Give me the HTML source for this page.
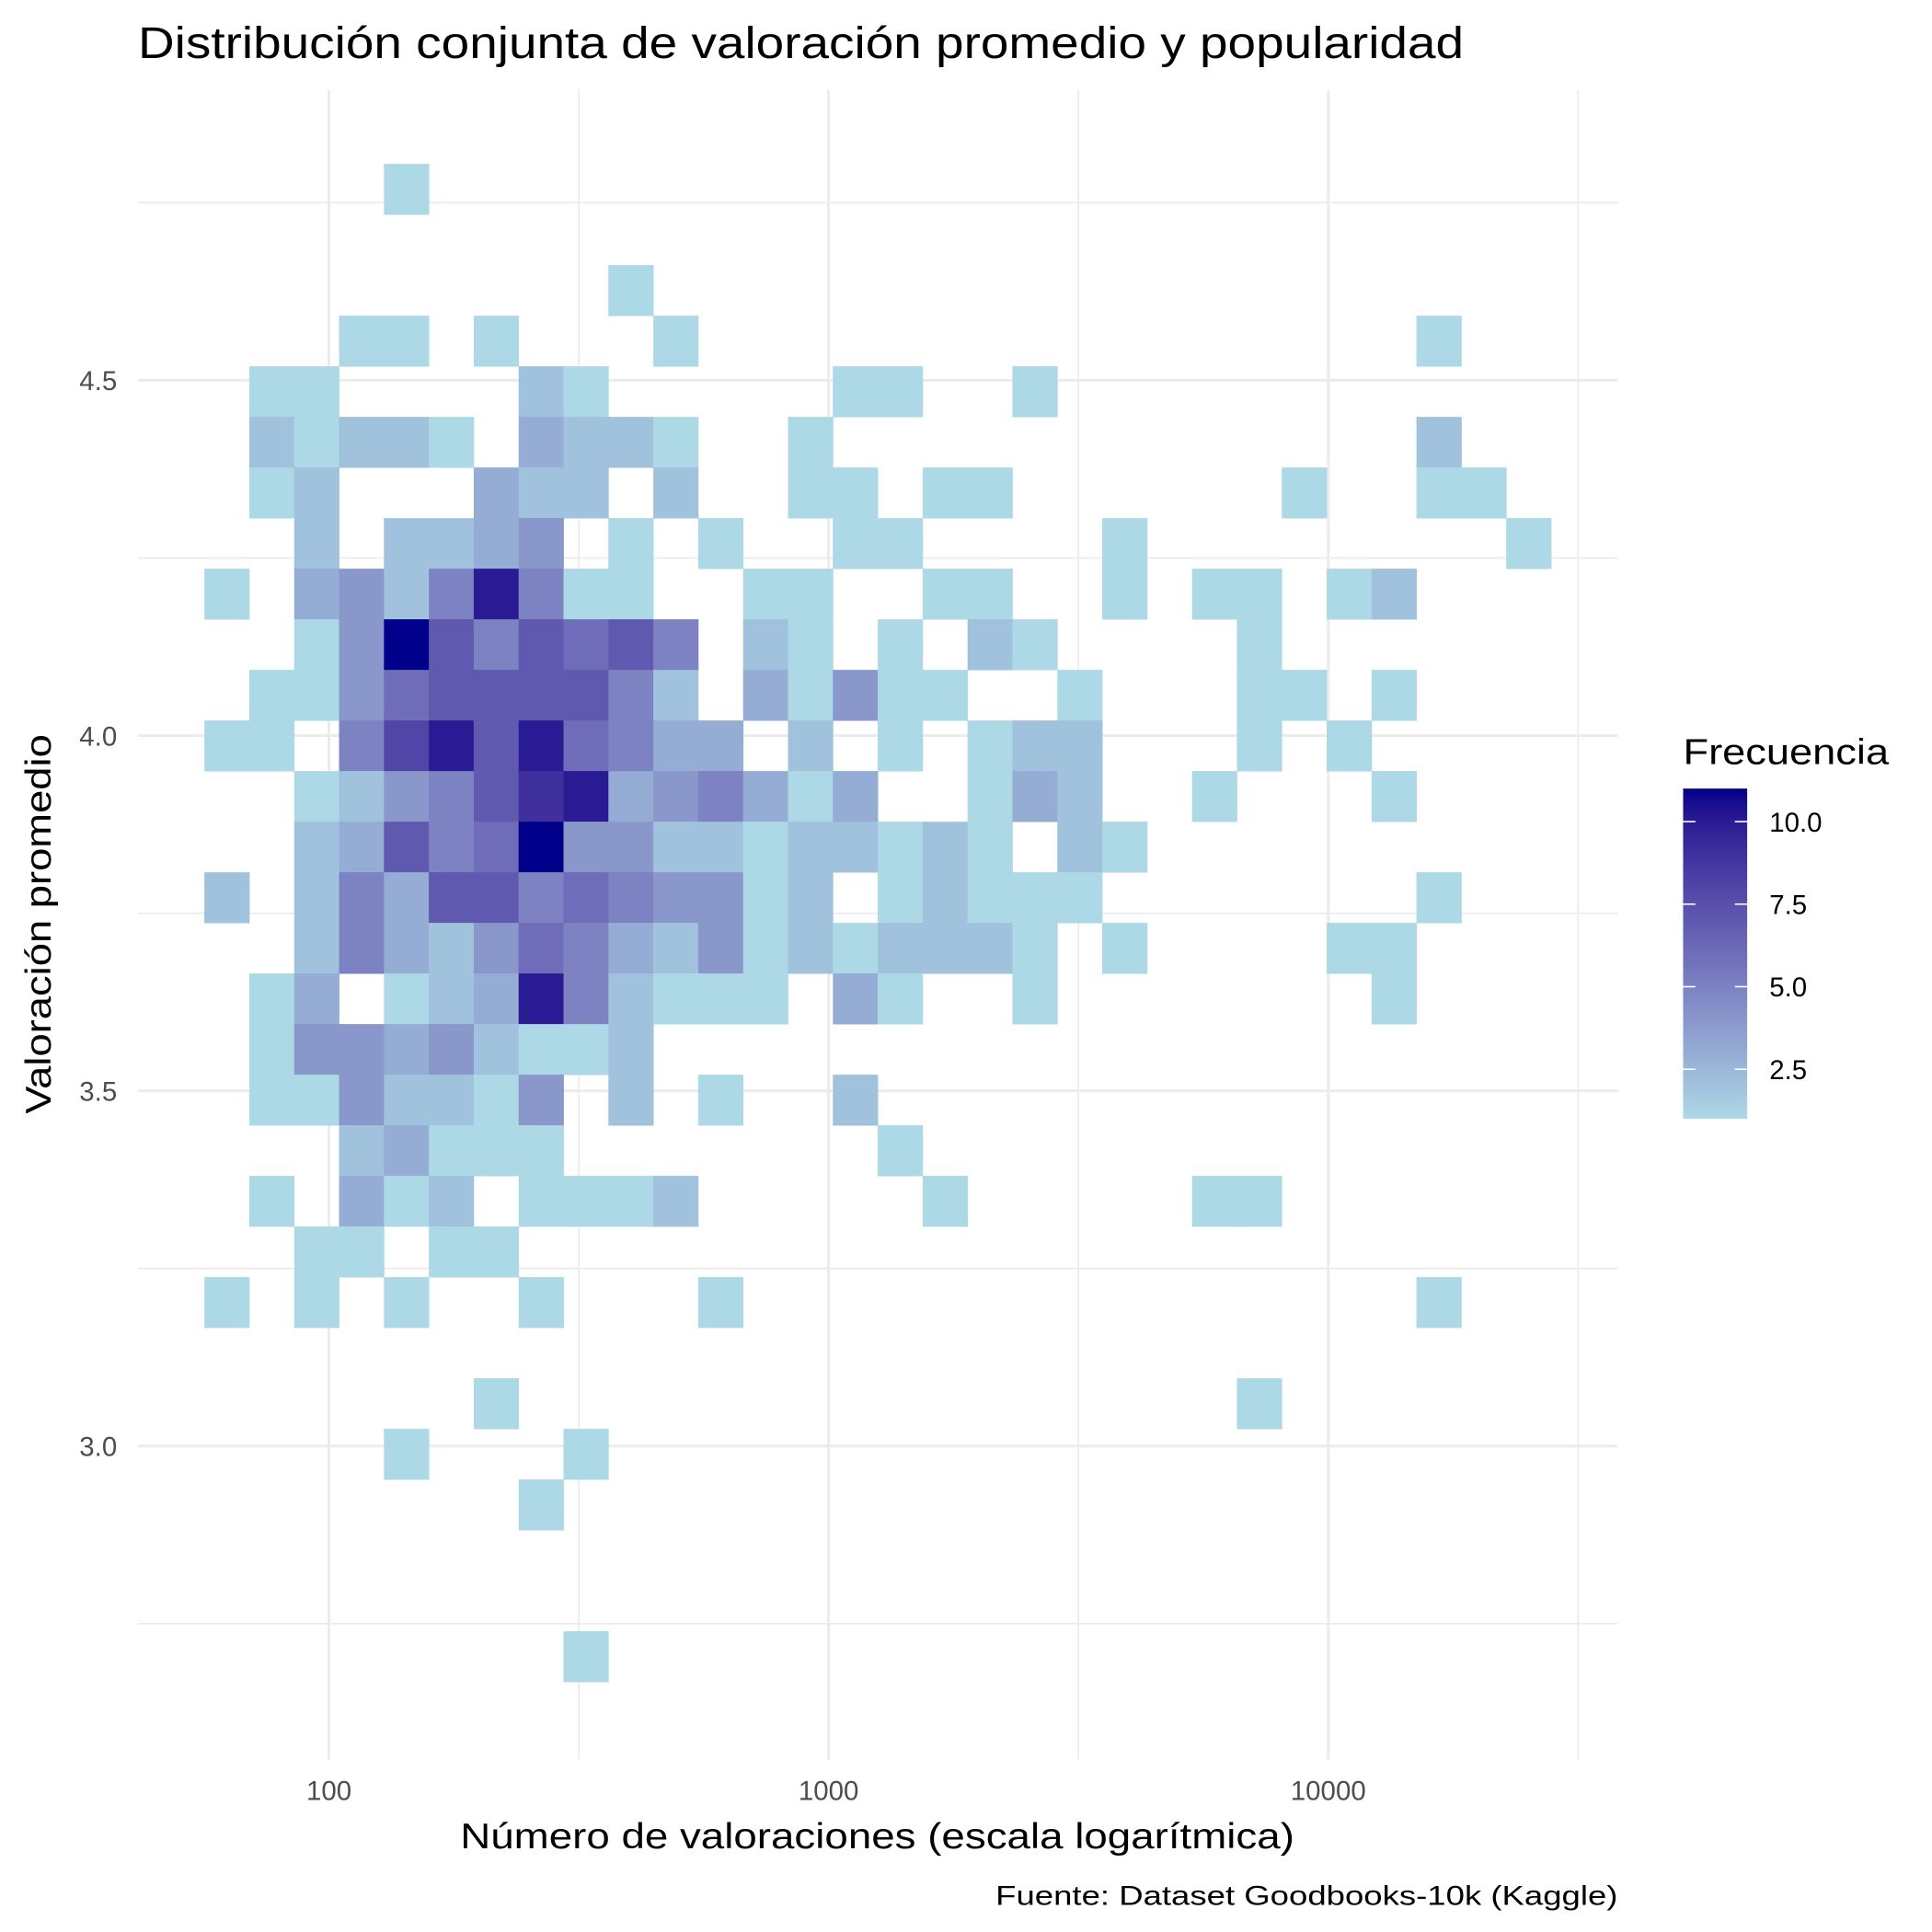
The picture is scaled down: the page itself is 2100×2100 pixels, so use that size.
<!DOCTYPE html>
<html><head><meta charset="utf-8">
<style>
html,body{margin:0;padding:0;background:#fff;}
svg{display:block;font-family:"Liberation Sans",Arial,sans-serif;}
</style></head>
<body>
<svg id="chart" width="2100" height="2100" viewBox="0 0 1568 1568" xmlns="http://www.w3.org/2000/svg">
  <rect x="0" y="0" width="1568" height="1568" fill="#fff"/>
  <g id="grid"></g>
  <g id="cells"></g>
  <g id="xticks"></g>
  <g id="yticks"></g>
  <text x="112" y="47" font-size="36" fill="#000" textLength="1076" lengthAdjust="spacingAndGlyphs">Distribución conjunta de valoración promedio y popularidad</text>
  <text x="712" y="1500" font-size="29" fill="#000" text-anchor="middle" textLength="677" lengthAdjust="spacingAndGlyphs">Número de valoraciones (escala logarítmica)</text>
  <text transform="translate(41,750) rotate(-90)" font-size="29" fill="#000" text-anchor="middle" textLength="308" lengthAdjust="spacingAndGlyphs">Valoración promedio</text>
  <text x="1313" y="1546" font-size="22" fill="#000" text-anchor="end" textLength="505" lengthAdjust="spacingAndGlyphs">Fuente: Dataset Goodbooks-10k (Kaggle)</text>
  <g id="legend">
    <text x="1366" y="620" font-size="29" fill="#000" textLength="167" lengthAdjust="spacingAndGlyphs">Frecuencia</text>
    <defs><linearGradient id="lg" x1="0" y1="1" x2="0" y2="0"></linearGradient></defs>
    <rect x="1366" y="640" width="52" height="268" fill="url(#lg)"/>
    <g id="legendticks"></g>
  </g>
</svg>
<script>
// ---- data ----
const xTickValues = [100, 1000, 10000];
const xTickLabels = ["100", "1000", "10000"];
const yTickValues = [3.0, 3.5, 4.0, 4.5];
const yTickLabels = ["3.0", "3.5", "4.0", "4.5"];
const legendTickValues = [2.5, 5.0, 7.5, 10.0];
const legendTickLabels = ["2.5", "5.0", "7.5", "10.0"];
const countMin = 1;
const countMax = 11;
// bin layout (log10 of ratings count, average rating)
const xBinStart = 1.7506;
const xBinWidth = 0.08985;
const yBinTop = 4.8047;
const yBinHeight = 0.07122;
// counts per bin, top row first, hex digits (a=10, b=11)
const countRows = [
  "000010000000000000000000000000",
  "000000000000000000000000000000",
  "000000000100000000000000000000",
  "000110100010000000000000000100",
  "011000021000001100100000000000",
  "021221032210010000000000000200",
  "012000322020011011000000100110",
  "002022340101001100001000000001",
  "103425a51100110011001011012000",
  "0014b757675021010210000100000 0".replace(" ",""),
  "011467777520314110010001101000",
  "11058a7a653302010122000101 0000".replace(" ",""),
  "00124579a345313001320010001000",
  "0023756b442212212102100000 0000".replace(" ",""),
  "202537756544120121110000000100",
  "002532465324121222101000011000",
  "0130123a5211103100100000001000",
  "014434211200000000000000000000",
  "011422140201002000000000000000",
  "000231110000000100000000000000",
  "010312011120000010000011000000",
  "001101100000000000000000000000",
  "101010010001000000000000000100",
  "000000000000000000000000000000",
  "000000100000000000000001000000",
  "000010001000000000000000000000",
  "000000010000000000000000000000",
  "000000000000000000000000000000",
  "000000000000000000000000000000",
  "000000001000000000000000000000"
];

// ---- scales ----
const panel = {x0: 112, x1: 1313, y0: 73, y1: 1428};
function xScale(lv) { return 267 + (lv - 2) * 405.5; }
function yScale(r) { return 597 - (r - 4) * 576.6; }
function legendY(v) { return 908 - (v - countMin) / (countMax - countMin) * 268; }

// Lab colour interpolation (lightblue -> darkblue)
function s2l(c){c/=255;return c<=0.04045?c/12.92:Math.pow((c+0.055)/1.055,2.4);}
function l2s(c){c=c<=0.0031308?12.92*c:1.055*Math.pow(c,1/2.4)-0.055;return Math.max(0,Math.min(255,Math.round(c*255)));}
function toLab(h){const r=s2l(parseInt(h.substr(1,2),16)),g=s2l(parseInt(h.substr(3,2),16)),b=s2l(parseInt(h.substr(5,2),16));
 let X=(r*0.4124+g*0.3576+b*0.1805)/0.95047,Y=(r*0.2126+g*0.7152+b*0.0722),Z=(r*0.0193+g*0.1192+b*0.9505)/1.08883;
 const f=t=>t>0.008856?Math.cbrt(t):7.787*t+16/116;X=f(X);Y=f(Y);Z=f(Z);return [116*Y-16,500*(X-Y),200*(Y-Z)];}
function fromLab(L){let Y=(L[0]+16)/116,X=L[1]/500+Y,Z=Y-L[2]/200;const fi=t=>t*t*t>0.008856?t*t*t:(t-16/116)/7.787;
 X=fi(X)*0.95047;Y=fi(Y);Z=fi(Z)*1.08883;
 const r=X*3.2406+Y*-1.5372+Z*-0.4986,g=X*-0.9689+Y*1.8758+Z*0.0415,b=X*0.0557+Y*-0.2040+Z*1.0570;
 return "rgb("+l2s(r)+","+l2s(g)+","+l2s(b)+")";}
const labLow = toLab("#ADD8E6"), labHigh = toLab("#00008B");
function colorFor(v){let t=(v-countMin)/(countMax-countMin);t=Math.max(0,Math.min(1,t));
 return fromLab([labLow[0]+(labHigh[0]-labLow[0])*t,labLow[1]+(labHigh[1]-labLow[1])*t,labLow[2]+(labHigh[2]-labLow[2])*t]);}

const NS = "http://www.w3.org/2000/svg";
function mk(tag, attrs, parent){const e=document.createElementNS(NS,tag);for(const k in attrs)e.setAttribute(k,attrs[k]);parent.appendChild(e);return e;}

// ---- grid ----
const grid = document.getElementById("grid");
[1.5,2.5,3.5,4.5].forEach(lv=>{const x=xScale(lv);if(x>panel.x0&&x<panel.x1){
  const l=mk("line",{x1:x,x2:x,y1:panel.y0,y2:panel.y1,stroke:"#EBEBEB","stroke-width":1.3},grid);
  
  }});
[2.75,3.25,3.75,4.25,4.75].forEach(r=>{const y=yScale(r);
  const l=mk("line",{x1:panel.x0,x2:panel.x1,y1:y,y2:y,stroke:"#EBEBEB","stroke-width":1.3},grid);
  
  });
xTickValues.forEach(v=>{const x=xScale(Math.log10(v));
  const l=mk("line",{x1:x,x2:x,y1:panel.y0,y2:panel.y1,stroke:"#EBEBEB","stroke-width":2.2},grid);
  
  });
yTickValues.forEach(v=>{const y=yScale(v);
  const l=mk("line",{x1:panel.x0,x2:panel.x1,y1:y,y2:y,stroke:"#EBEBEB","stroke-width":2.2},grid);
  
  });

// ---- cells ----
const cells = document.getElementById("cells");
countRows.forEach((row, ri)=>{
  const rTop = yBinTop - ri*yBinHeight, rBot = rTop - yBinHeight;
  for (let ci=0; ci<row.length; ci++){
    const v = parseInt(row[ci],16);
    if (!v) continue;
    const xa = xScale(xBinStart + ci*xBinWidth), xb = xScale(xBinStart + (ci+1)*xBinWidth);
    const ya = yScale(rTop), yb = yScale(rBot);
    const c = mk("rect",{x:xa,y:ya,width:xb-xa+0.3,height:yb-ya+0.3,fill:colorFor(v)},cells);
    
    
  }
});

// ---- tick labels ----
const xt = document.getElementById("xticks");
xTickValues.forEach((v,i)=>{const t=mk("text",{x:xScale(Math.log10(v)),y:1461,"font-size":22,fill:"#4D4D4D","text-anchor":"middle"},xt);
  t.textContent=xTickLabels[i];
  
  });
const yt = document.getElementById("yticks");
yTickValues.forEach((v,i)=>{const t=mk("text",{x:95,y:yScale(v)+8,"font-size":22,fill:"#4D4D4D","text-anchor":"end"},yt);
  t.textContent=yTickLabels[i];
  
  });

// ---- legend ----
const lg = document.getElementById("lg");
for (let i=0;i<=20;i++){const v=countMin+(countMax-countMin)*i/20;
  mk("stop",{offset:(i/20*100)+"%","stop-color":colorFor(v)},lg);}
const lt = document.getElementById("legendticks");
legendTickValues.forEach((v,i)=>{const y=legendY(v);
  const a=mk("line",{x1:1366,x2:1376,y1:y,y2:y,stroke:"#fff","stroke-width":1.2},lt);
  
  
  const b=mk("line",{x1:1408,x2:1418,y1:y,y2:y,stroke:"#fff","stroke-width":1.2},lt);
  
  
  const t=mk("text",{x:1436,y:y+8,"font-size":22,fill:"#000"},lt);
  t.textContent=legendTickLabels[i];
  
  });
</script>
</body></html>
